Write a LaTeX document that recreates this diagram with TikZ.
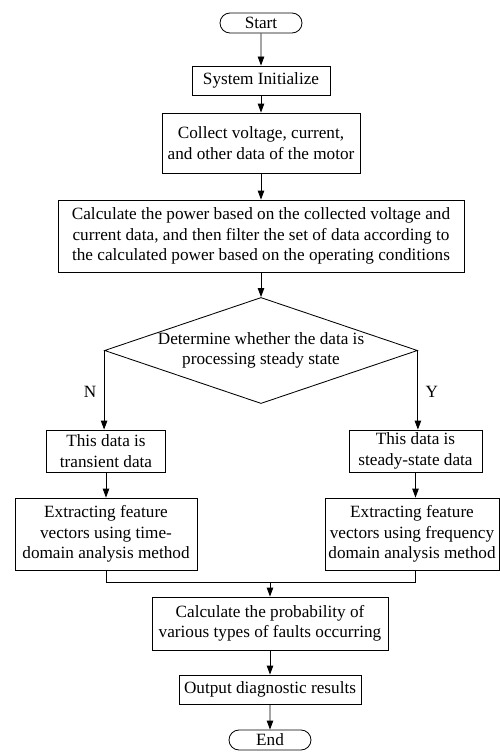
\documentclass[tikz,border=0pt]{standalone}
\usepackage{fontspec}
\setmainfont{Liberation Serif}
\usetikzlibrary{arrows.meta,shapes.geometric,shapes.misc}
\newcommand{\fsz}{\fontsize{17.2bp}{20.5bp}\selectfont}
\tikzset{
  box/.style={draw,rectangle,inner sep=0pt,align=center,font=\fsz},
  term/.style={draw,rounded rectangle,inner sep=0pt,minimum width=82bp,minimum height=20bp,font=\fsz},
  decide/.style={draw,diamond,aspect=2.95,inner sep=0pt,align=center,minimum width=310bp,minimum height=105bp,font=\fsz},
  arr/.style={-{Triangle[length=9bp,width=6.5bp]}}
}
\begin{document}
\begin{tikzpicture}[x=1bp,y=-1bp,line width=0.85bp]
\useasboundingbox (0,0) rectangle (500,754);

%main column
\node[term] (start) at (261,23) {Start};
\node[box,minimum width=138bp,minimum height=29bp] (init) at (261,80.5) {System Initialize};
\node[box,minimum width=198bp,minimum height=60bp] (collect) at (261,143) {Collect voltage, current,\\and other data of the motor};
\node[box,minimum width=406bp,minimum height=72bp] (power) at (261,236) {Calculate the power based on the collected voltage and\\current data, and then filter the set of data according to\\the calculated power based on the operating conditions};
\node[decide] (steadyq) at (261,350.5) {Determine whether the data is\\processing steady state};

%N branch
\node[box,minimum width=119bp,minimum height=42bp] (trans) at (106,451) {This data is\\transient data};
\node[box,minimum width=182bp,minimum height=72bp] (timefeat) at (106,534) {Extracting feature\\vectors using time-\\domain analysis method};

%Y branch
\node[box,minimum width=133bp,minimum height=42bp] (stead) at (415.5,451) {This data is\\steady-state data};
\node[box,minimum width=174bp,minimum height=72bp] (freqfeat) at (412,534) {Extracting feature\\vectors using frequency\\domain analysis method};

%bottom
\coordinate (join) at (270,582);
\node[box,minimum width=236bp,minimum height=53bp] (prob) at (270,623.5) {Calculate the probability of\\various types of faults occurring};
\node[box,minimum width=182bp,minimum height=29bp] (result) at (270,689.5) {Output diagnostic results};
\node[term] (end) at (270,740) {End};

%arrows
\draw[arr] (start) -- (init);
\draw[arr] (init) -- (collect);
\draw[arr] (collect) -- (power);
\draw[arr] (power) -- (steadyq);
\draw[arr] (steadyq.west) -- node[pos=0.52,left=4bp,font=\fsz]{N} (steadyq.west |- trans.north);
\draw[arr] (steadyq.east) -- node[pos=0.52,right=4bp,font=\fsz]{Y} (steadyq.east |- stead.north);
\draw[arr] (trans) -- (timefeat);
\draw[arr] (stead.south) -- (stead.south |- freqfeat.north);
\draw (timefeat.south) |- (join);
\draw (stead.south |- freqfeat.south) |- (join);
\draw[arr] (join) -- (prob);
\draw[arr] (prob) -- (result);
\draw[arr] (result) -- (end);
\end{tikzpicture}
\end{document}
